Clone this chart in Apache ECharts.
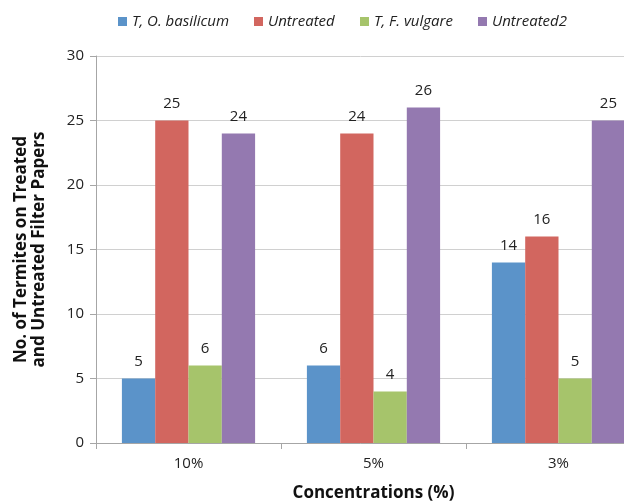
<!DOCTYPE html>
<html><head><meta charset="utf-8">
<script src="https://cdn.jsdelivr.net/npm/echarts@6/dist/echarts.min.js"></script>
<style>html,body{margin:0;padding:0;background:#fff}#c{width:624px;height:502px}</style>
</head><body><div id="c"></div>
<script>
const categories = ['10%', '5%', '3%'];
const seriesNames = ['T, O. basilicum', 'Untreated', 'T, F. vulgare', 'Untreated2'];
const basilicum = [5, 6, 14];
const untreated = [25, 24, 16];
const vulgare = [6, 4, 5];
const untreated2 = [24, 26, 25];
const yTicks = [0, 5, 10, 15, 20, 25, 30];
const colors = ['#5b93c9', '#d2665f', '#a6c46b', '#9479b0'];
const legendLeft = [113, 249, 355, 473];
const FONT = '"Open Sans", "Noto Sans", sans-serif';

const chart = echarts.init(document.getElementById('c'), null, {renderer: 'canvas'});
const dataSets = [basilicum, untreated, vulgare, untreated2];
chart.setOption({
  animation: false,
  textStyle: {fontFamily: FONT},
  color: colors,
  legend: seriesNames.map((n, i) => ({
    top: 9, left: legendLeft[i], itemWidth: 9, itemHeight: 9, icon: 'rect',
    textStyle: {fontFamily: FONT, fontSize: 15, fontStyle: 'italic', color: '#222'},
    data: [n]
  })),
  grid: {left: 96, top: 56, bottom: 59, right: -27, containLabel: false, outerBoundsMode: 'none'},
  xAxis: {
    type: 'category', data: categories,
    name: 'Concentrations (%)', nameLocation: 'middle', nameGap: 42,
    nameTextStyle: {fontFamily: FONT, fontSize: 17, fontWeight: 'bold', color: '#111'},
    axisLine: {lineStyle: {color: '#a6a6a6'}},
    axisTick: {show: true, length: 6, lineStyle: {color: '#a6a6a6'}},
    axisLabel: {fontFamily: FONT, fontSize: 15, color: '#222', margin: 13}
  },
  yAxis: {
    type: 'value', min: yTicks[0], max: yTicks[yTicks.length - 1], interval: 5,
    name: 'No. of Termites on Treated\nand Untreated Filter Papers',
    nameLocation: 'middle', nameGap: 48,
    nameTextStyle: {fontFamily: FONT, fontSize: 17, fontWeight: 'bold', color: '#111', lineHeight: 18},
    axisLine: {show: true, lineStyle: {color: '#a6a6a6'}},
    axisTick: {show: true, length: 6, lineStyle: {color: '#a6a6a6'}},
    axisLabel: {fontFamily: FONT, fontSize: 15, color: '#222', margin: 12},
    splitLine: {lineStyle: {color: '#d0d0d0'}}
  },
  series: seriesNames.map((n, i) => ({
    name: n, type: 'bar', data: dataSets[i],
    barGap: '0%', barCategoryGap: '28%',
    label: {show: true, position: 'top', distance: 9, fontFamily: FONT, fontSize: 15, color: '#222'}
  }))
});
</script></body></html>
